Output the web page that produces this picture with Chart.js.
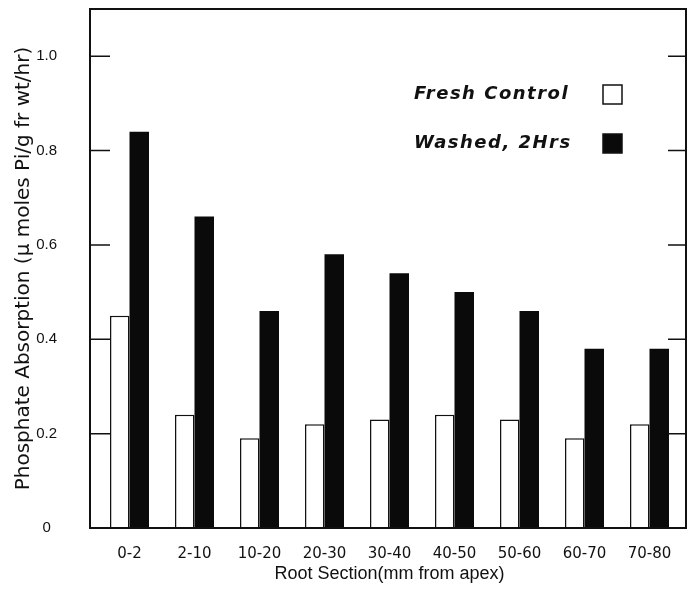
<!DOCTYPE html>
<html>
<head>
<meta charset="utf-8">
<script src="https://cdn.jsdelivr.net/npm/chart.js@4.4.0/dist/chart.umd.min.js"></script>
<style>
  body { margin: 0; background: #fff; }
</style>
</head>
<body>
<canvas id="mycanvas" width="694" height="592"></canvas>
<script>
var sections = ['0-2', '2-10', '10-20', '20-30', '30-40', '40-50', '50-60', '60-70', '70-80'];
var freshControl = [0.45, 0.24, 0.19, 0.22, 0.23, 0.24, 0.23, 0.19, 0.22];
var washed2Hrs = [0.84, 0.66, 0.46, 0.58, 0.54, 0.50, 0.46, 0.38, 0.38];
var yTickValues = [0, 0.2, 0.4, 0.6, 0.8, 1.0];
var yTickLabels = ['0', '0.2', '0.4', '0.6', '0.8', '1.0'];

// frame round the plot, inward ticks on both sides, and the legend in the corner
var framePlugin = {
    id: 'frame',
    afterDraw: function(chart) {
        var ctx = chart.ctx;
        var a = chart.chartArea;
        var left = a.left - 7, right = a.right + 4;
        ctx.save();
        ctx.strokeStyle = '#111';
        ctx.lineWidth = 2;
        ctx.strokeRect(left, a.top, right - left, a.bottom - a.top);
        ctx.lineWidth = 1.5;
        var y = chart.scales.y;
        y.ticks.forEach(function(t) {
            var py = y.getPixelForValue(t.value);
            if (t.value === 0) return;
            ctx.beginPath();
            ctx.moveTo(left, py); ctx.lineTo(left + 20, py);
            ctx.moveTo(right, py); ctx.lineTo(right - 18, py);
            ctx.stroke();
        });

        // legend: label then box
        ctx.font = 'italic bold 18px "DejaVu Sans"';
        ctx.letterSpacing = '1.5px';
        ctx.textBaseline = 'middle';
        ctx.textAlign = 'left';
        chart.data.datasets.forEach(function(ds, i) {
            var cy = a.top + 85 + i * 49;
            ctx.fillStyle = '#111';
            ctx.fillText(ds.label, a.left + 317, cy);
            ctx.fillStyle = ds.backgroundColor;
            ctx.fillRect(a.left + 506, cy - 9, 19, 19);
            ctx.lineWidth = 1.5;
            ctx.strokeStyle = '#111';
            ctx.strokeRect(a.left + 506, cy - 9, 19, 19);
        });
        ctx.restore();
    }
};

var chartdata = {
    labels: sections,
    datasets: [
        {
            label: 'Fresh Control',
            backgroundColor: '#ffffff',
            borderColor: '#111',
            borderWidth: 1.5,
            data: freshControl
        },
        {
            label: 'Washed, 2Hrs',
            backgroundColor: '#0a0a0a',
            borderColor: '#0a0a0a',
            borderWidth: 0,
            data: washed2Hrs
        }
    ]
};

var ctx = document.getElementById('mycanvas');
var barGraph = new Chart(ctx, {
    type: 'bar',
    data: chartdata,
    plugins: [framePlugin],
    options: {
        responsive: false,
        animation: false,
        layout: { padding: { top: 9, right: 12, left: 0, bottom: 0 } },
        datasets: { bar: { categoryPercentage: 0.6, barPercentage: 1.0 } },
        plugins: { legend: { display: false }, tooltip: { enabled: false } },
        scales: {
            x: {
                grid: { display: false },
                border: { display: false },
                ticks: { color: '#111', font: { family: 'DejaVu Sans', size: 15 }, padding: 9, maxRotation: 0 },
                title: {
                    display: true,
                    text: 'Root Section(mm from apex)',
                    color: '#111',
                    font: { family: 'Liberation Sans', size: 18 },
                    padding: { top: 0, bottom: 7 }
                },
                afterFit: function(scale) { scale.height = 64; }
            },
            y: {
                min: 0,
                max: 1.1,
                grid: { display: false, drawTicks: false },
                border: { display: false },
                afterBuildTicks: function(scale) {
                    scale.ticks = yTickValues.map(function(v) { return { value: v }; });
                },
                ticks: {
                    color: '#111',
                    crossAlign: 'center',
                    padding: 40,
                    font: { family: 'Liberation Sans', size: 15 },
                    callback: function(value) {
                        var i = yTickValues.indexOf(value);
                        return i >= 0 ? yTickLabels[i] : '';
                    }
                },
                title: {
                    display: true,
                    text: 'Phosphate Absorption (\u03bc moles Pi/g fr wt/hr)',
                    color: '#111',
                    font: { family: 'DejaVu Sans', size: 20 },
                    padding: { top: 12, bottom: 0 }
                },
                afterFit: function(scale) {
                    scale.width = 97;
                    scale.paddingTop = 0;
                    scale.paddingBottom = 0;
                }
            }
        }
    }
});
</script>
</body>
</html>
